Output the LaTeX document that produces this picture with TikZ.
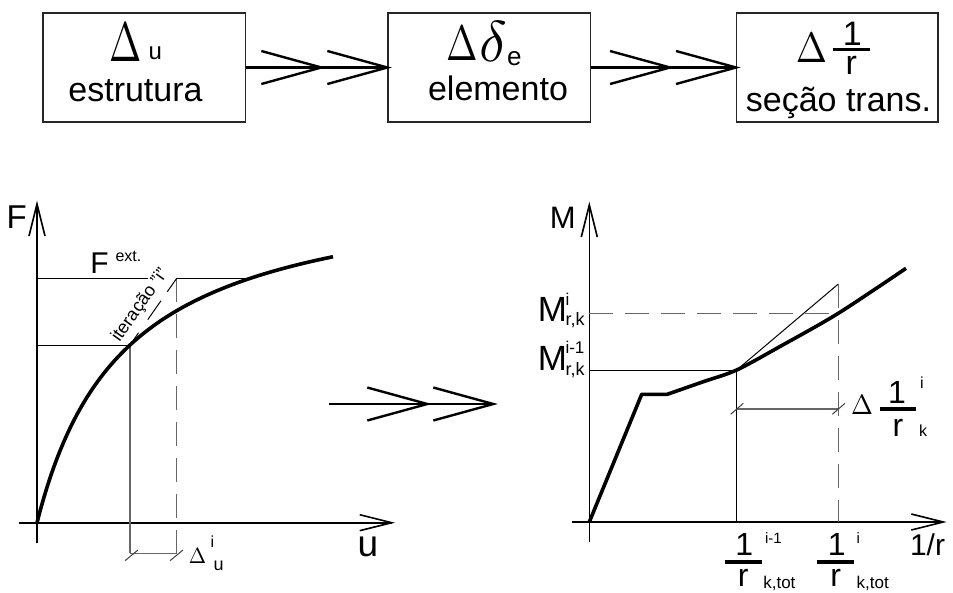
\documentclass[tikz,border=0pt]{standalone}
\usepackage{fontspec}
\setmainfont{Liberation Sans}
\usepackage{graphicx}
\usetikzlibrary{decorations.markings}
\newcommand{\fsz}[1]{\fontsize{#1pt}{#1pt}\selectfont}
\newcommand{\trig}[2]{\resizebox*{#1pt}{#2pt}{$\Delta$}}
\begin{document}
\begin{tikzpicture}[x=1pt,y=-1pt,
  box/.style={draw=black!85, line width=1.2pt, inner sep=0pt, minimum height=109pt},
  txt/.style={inner sep=0pt, outer sep=0pt},
  thinl/.style={line width=1pt, black},
  grayl/.style={line width=1.3pt, black!60},
  tick/.style={line width=1pt, black!75},
  dashpat/.style={dash pattern=on 24pt off 12pt},
  curvel/.style={line width=3.6pt, line join=round},
  fracbar/.style={line width=3.6pt},
  dblarrow/.style={line width=2.4pt, postaction={decorate}, decoration={markings,
    mark=at position -66pt with {\draw[line width=2.4pt] (-60,16.5) -- (0,0) -- (-60,-16.5);},
    mark=at position 1 with {\draw[line width=2.4pt] (-60,16.5) -- (0,0) -- (-60,-16.5);}}},
  axisl/.style={line width=1.6pt, postaction={decorate}, decoration={markings,
    mark=at position 1 with {\draw[line width=1.6pt] (-32,8) -- (0,0) -- (-32,-8);}}}
]
\useasboundingbox (0,0) rectangle (953,592);

% ---------- top boxes ----------
\node[box, minimum width=202.7pt] (b1) at (144.3,67.5) {};
\node[box, minimum width=202.7pt] (b2) at (489.3,67.5) {};
\node[box, minimum width=201.3pt] (b3) at (837.3,67.5) {};
\draw[dblarrow] (b1.east) -- (b2.west);
\draw[dblarrow] (b2.east) -- (b3.west);

\node[txt, anchor=south west] (d1) at (109.8,61) {\trig{32.3}{38}};
\node[txt, font=\fsz{24}, anchor=base west] (u1) at (148.5,59.3) {u};
\node[txt, font=\fsz{34}, anchor=base] (t1) at (135.5,101.7) {estrutura};

\node[txt, anchor=south west] (d2) at (446.9,60.7) {\trig{31.5}{34}};
\node[txt, anchor=south west] (dl2) at (479,61.7) {\resizebox*{!}{40pt}{$\delta$}};
\node[txt, font=\fsz{26}, anchor=base west] (e2) at (507,65) {e};
\node[txt, font=\fsz{34}, anchor=base] (t2) at (498,100) {elemento};

\node[txt, anchor=south west] (d3) at (795.9,62) {\trig{31.2}{29}};
\node[txt, font=\fsz{34}, anchor=base] (n3) at (852.3,45) {1};
\node[txt, font=\fsz{34}, anchor=base] (r3) at (851.3,74) {r};
\draw[fracbar] (832.7,49.3) -- (870,49.3);
\node[txt, font=\fsz{34}, anchor=base] (t3) at (838.5,111) {seção trans.};

% ---------- left plot ----------
\coordinate (O1) at (37,522.7);
\coordinate (Fb) at (37,543);
\coordinate (Ft) at (37,204);
\coordinate (Ul) at (19,522.7);
\coordinate (Ur) at (391.7,522.7);
\draw[axisl] (Fb) -- (Ft);
\draw[axisl] (Ul) -- (Ur);

\coordinate (P1) at (130,345);
\coordinate (Q1) at (176.7,278.3);
\coordinate (C1) at (249,278.3);
\coordinate (A1) at (37,278.3);
\coordinate (G1) at (148.3,278.3);
\coordinate (B1) at (37,345);
\coordinate (P1b) at (130,553.3);
\coordinate (Q1b) at (176.7,553.3);

\draw[thinl] (A1) -- (G1);
\draw[thinl] (Q1) -- (C1);
\draw[thinl] (B1) -- (P1);
\draw[grayl] (P1) -- (P1b);
\draw[grayl, dashpat] (Q1) -- (Q1b);
\draw[grayl] (P1b) -- (Q1b);
\draw[tick] (125,560.7) -- (138,550);
\draw[tick] (170,560.7) -- (183,550);
\draw[thinl, dash pattern=on 0pt off 6pt on 9pt off 16pt on 23pt off 11pt on 20pt] (P1) -- (Q1);

\draw[curvel] plot[domain=0:296, samples=90] ({37+\x},{522.7-344.3*(\x/(87.2+\x))});

\node[txt, font=\fsz{33}, anchor=base west] (Flab) at (6.6,228.3) {F};
\node[txt, font=\fsz{30}, anchor=base west] (Fext) at (90.3,273.3) {F};
\node[txt, font=\fsz{16}, anchor=base west] (ext) at (115.5,261.3) {ext.};
\node[txt, font=\fsz{18}, rotate=54.6, anchor=base west] (iter) at (119.5,342.5) {iteração "i"};
\node[txt, font=\fsz{37}, anchor=base west] (ulab) at (357.5,556.7) {u};
\node[txt, anchor=south west] (d4) at (188.8,563) {\trig{17.3}{15}};
\node[txt, font=\fsz{16}, anchor=base west] (i4) at (210.5,547) {i};
\node[txt, font=\fsz{18}, anchor=base west] (u4) at (213.5,570) {u};

% ---------- middle arrow ----------
\coordinate (ma) at (329.3,404);
\coordinate (mb) at (493.3,404);
\draw[dblarrow] (ma) -- (mb);

% ---------- right plot ----------
\coordinate (O2) at (589.3,522);
\coordinate (Mb) at (589.3,542);
\coordinate (Mt) at (589.3,205);
\coordinate (Xl) at (571.7,522);
\coordinate (Xr) at (943.3,522);
\draw[axisl] (Mb) -- (Mt);
\draw[axisl] (Xl) -- (Xr);

\coordinate (M2) at (736.7,370);
\coordinate (T2) at (838.3,284);
\coordinate (H2) at (838.3,313.3);
\coordinate (L2) at (589.3,370);
\coordinate (L3) at (589.3,313.3);
\coordinate (V2) at (736.7,522);
\coordinate (V3) at (838.3,522);

\draw[thinl] (L2) -- (M2);
\draw[thinl] (M2) -- (V2);
\draw[thinl] (M2) -- (T2);
\draw[grayl, dashpat] (T2) -- (V3);
\draw[grayl, dashpat] (L3) -- (H2);
\draw[grayl] (736.7,409) -- (838.3,409);
\draw[tick] (730.7,414.3) -- (743.3,403.3);
\draw[tick] (832.3,414.3) -- (845,403.3);

\draw[curvel] (O2) -- (641.7,394.3) -- (667.3,394.3)
  -- plot[smooth] coordinates {(667.3,394.3) (703.3,381.7) (736.7,370) (780,346.5) (838.3,313.3) (906,268.3)};

\node[txt, font=\fsz{31}, anchor=base east] (Mlab) at (575.6,228.3) {M};
\node[txt, font=\fsz{35}, anchor=base east] (Ma) at (567,321.7) {M};
\node[txt, font=\fsz{17}, anchor=base west] (Mai) at (565.5,305) {i};
\node[txt, font=\fsz{18}, anchor=base west] (Mas) at (565.5,325.5) {r,k};
\node[txt, font=\fsz{35}, anchor=base east] (Mb2) at (567,370) {M};
\node[txt, font=\fsz{17}, anchor=base west] (Mbi) at (565.5,353.3) {i-1};
\node[txt, font=\fsz{18}, anchor=base west] (Mbs) at (565.5,375) {r,k};

\node[txt, anchor=south west] (d5) at (851.2,414) {\trig{21.9}{19}};
\node[txt, font=\fsz{32}, anchor=base] (n5) at (897,403.3) {1};
\draw[fracbar] (880,409) -- (916,409);
\node[txt, font=\fsz{32}, anchor=base] (r5) at (898,436.7) {r};
\node[txt, font=\fsz{16}, anchor=base west] (i5) at (920,388) {i};
\node[txt, font=\fsz{16}, anchor=base west] (k5) at (919,436.7) {k};

\node[txt, font=\fsz{32}, anchor=base] (f1n) at (744.3,555) {1};
\draw[fracbar] (725,561.7) -- (761.7,561.7);
\node[txt, font=\fsz{32}, anchor=base] (f1d) at (743.3,586.7) {r};
\node[txt, font=\fsz{15}, anchor=base west] (f1s) at (765,543.3) {i-1};
\node[txt, font=\fsz{17}, anchor=base west] (f1k) at (763.3,588.3) {k,tot};

\node[txt, font=\fsz{32}, anchor=base] (f2n) at (836.7,555) {1};
\draw[fracbar] (817.3,561.7) -- (854,561.7);
\node[txt, font=\fsz{32}, anchor=base] (f2d) at (835.7,586.7) {r};
\node[txt, font=\fsz{15}, anchor=base west] (f2s) at (856.7,543.3) {i};
\node[txt, font=\fsz{17}, anchor=base west] (f2k) at (856.7,588.3) {k,tot};

\node[txt, font=\fsz{30}, anchor=base west] (xlab) at (910,555) {1/r};
\end{tikzpicture}
\end{document}
